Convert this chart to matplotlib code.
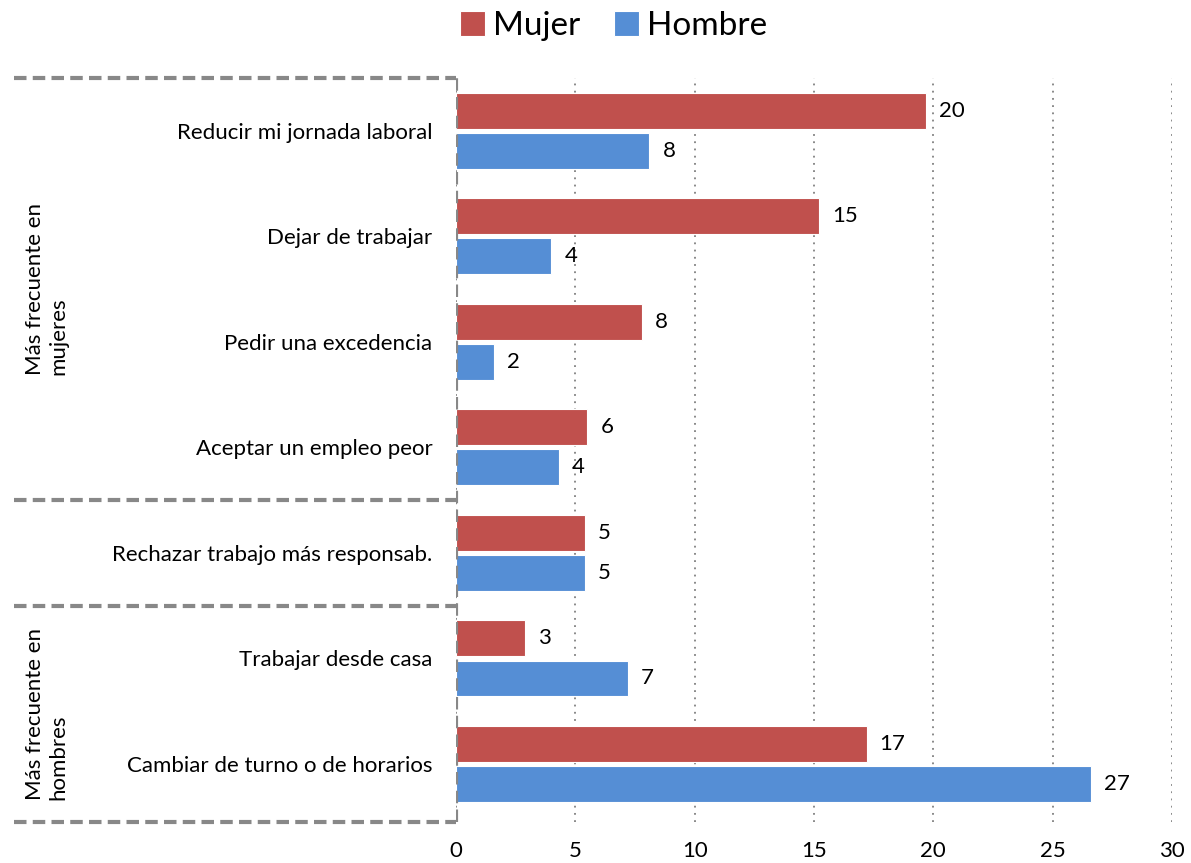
import matplotlib
matplotlib.use('Agg')
import matplotlib.pyplot as plt
import matplotlib.transforms as mtransforms
import numpy as np

plt.rcParams['font.family'] = ['Lato', 'DejaVu Sans']

categories = ['Reducir mi jornada laboral', 'Dejar de trabajar', 'Pedir una excedencia',
              'Aceptar un empleo peor', 'Rechazar trabajo más responsab.',
              'Trabajar desde casa', 'Cambiar de turno o de horarios']
mujer = [19.7, 15.2, 7.8, 5.5, 5.4, 2.9, 17.2]
hombre = [8.1, 4.0, 1.6, 4.3, 5.4, 7.2, 26.6]
groups = ['Más frecuente en\nmujeres', 'Más frecuente en\nhombres']
group_spans = [(-0.5, 3.5), (4.5, 6.55)]
separators = [-0.5, 3.5, 4.5, 6.55]
xticks = [0, 5, 10, 15, 20, 25, 30]

c_mujer = '#C0504D'
c_hombre = '#558ED5'
fs = 16

fig = plt.figure(figsize=(11.91, 8.63), dpi=100)
ax = fig.add_axes([456/1191, 1-822/863, (1172-456)/1191, (822-78)/863])

y = np.arange(len(categories))
h = 0.34
off = 0.19
b1 = ax.barh(y - off, mujer, height=h, color=c_mujer, edgecolor='white', linewidth=0.8, label='Mujer', zorder=3)
b2 = ax.barh(y + off, hombre, height=h, color=c_hombre, edgecolor='white', linewidth=0.8, label='Hombre', zorder=3)

for bars, vals in [(b1, mujer), (b2, hombre)]:
    for bar, v in zip(bars, vals):
        ax.text(v + 0.55, bar.get_y() + bar.get_height()/2, f'{v:.0f}',
                va='center', ha='left', fontsize=fs)

ax.set_xlim(0, 30)
ax.set_ylim(6.55, -0.5)
ax.set_xticks(xticks)
ax.set_xticklabels([str(t) for t in xticks], fontsize=fs)
ax.set_yticks(y)
ax.set_yticklabels(categories, fontsize=fs)
ax.tick_params(axis='both', length=0)
ax.tick_params(axis='y', pad=17)
ax.tick_params(axis='x', pad=14)
for s in ax.spines.values():
    s.set_visible(False)

ax.xaxis.grid(True, linestyle=(0, (1, 3)), color='#808080', linewidth=1.3, zorder=0)
ax.set_axisbelow(True)

# dashed group frame on the left
ax.axvline(0, color='#888888', linestyle=(0, (3, 1.5)), linewidth=3, zorder=4)
trans = mtransforms.blended_transform_factory(ax.transAxes, ax.transData)
for s in separators:
    ax.plot([-0.617, 0], [s, s], transform=trans, color='#888888',
            linestyle=(0, (3, 1.5)), linewidth=3, clip_on=False, zorder=4)
for g, (a, b) in zip(groups, group_spans):
    ax.text(-0.572, (a + b)/2, g, transform=trans, rotation=90, ha='center',
            va='center', fontsize=fs, multialignment='left')

fig.legend(handles=[b1, b2], loc='upper center', bbox_to_anchor=(0.515, 1.022), ncol=2,
           frameon=False, fontsize=24, handlelength=0.75, handleheight=0.75,
           handletextpad=0.25, columnspacing=1.0)

fig.savefig('out.png', dpi=100)
